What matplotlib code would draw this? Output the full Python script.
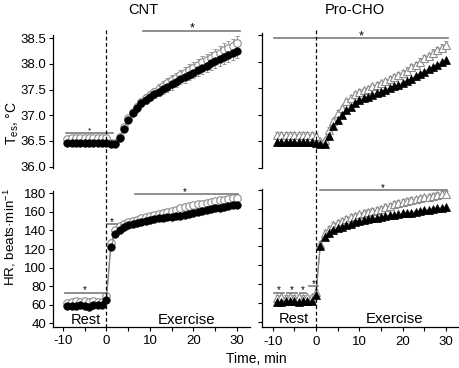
import matplotlib
matplotlib.use("Agg")
import matplotlib.pyplot as plt
from matplotlib.lines import Line2D
from matplotlib.transforms import blended_transform_factory
import numpy as np

plt.rcParams['font.family'] = ['Liberation Sans', 'DejaVu Sans']
plt.rcParams['mathtext.default'] = 'regular'

# ---------------- data ----------------
time = [-9, -8, -7, -6, -5, -4, -3, -2, -1, 0,
        1, 2, 3, 4, 5, 6, 7, 8, 9, 10,
        11, 12, 13, 14, 15, 16, 17, 18, 19, 20,
        21, 22, 23, 24, 25, 26, 27, 28, 29, 30]

cnt_tes_filled = [36.46, 36.46, 36.46, 36.47, 36.47, 36.47, 36.47, 36.47, 36.47, 36.46,
                  36.44, 36.44, 36.56, 36.74, 36.91, 37.04, 37.14, 37.23, 37.30, 37.36,
                  37.41, 37.46, 37.51, 37.55, 37.60, 37.65, 37.70, 37.74, 37.79, 37.83,
                  37.88, 37.92, 37.96, 38.01, 38.05, 38.09, 38.13, 38.17, 38.21, 38.25]
cnt_tes_open = [36.54, 36.55, 36.55, 36.55, 36.56, 36.56, 36.56, 36.56, 36.56, 36.55,
                36.46, 36.46, 36.58, 36.77, 36.94, 37.07, 37.17, 37.26, 37.33, 37.40,
                37.46, 37.52, 37.58, 37.63, 37.68, 37.73, 37.78, 37.83, 37.88, 37.93,
                37.98, 38.03, 38.07, 38.12, 38.17, 38.22, 38.27, 38.31, 38.35, 38.40]
cho_tes_filled = [36.48, 36.48, 36.48, 36.48, 36.48, 36.48, 36.48, 36.48, 36.48, 36.47,
                  36.45, 36.45, 36.59, 36.78, 36.90, 37.00, 37.09, 37.15, 37.22, 37.28,
                  37.31, 37.34, 37.37, 37.40, 37.43, 37.46, 37.50, 37.53, 37.56, 37.59,
                  37.63, 37.68, 37.72, 37.77, 37.81, 37.86, 37.90, 37.94, 37.99, 38.03]
cho_tes_open = [36.62, 36.62, 36.62, 36.62, 36.62, 36.62, 36.62, 36.62, 36.62, 36.60,
                36.50, 36.52, 36.71, 36.87, 37.03, 37.12, 37.25, 37.31, 37.38, 37.43,
                37.46, 37.49, 37.53, 37.56, 37.59, 37.63, 37.67, 37.70, 37.74, 37.78,
                37.83, 37.89, 37.94, 38.00, 38.06, 38.11, 38.16, 38.21, 38.26, 38.31]

cnt_hr_filled = [59, 59, 59, 60, 59, 58, 60, 60, 60, 65,
                 122, 136, 141, 144, 146, 147, 148, 149, 150, 151,
                 152, 153, 153, 154, 155, 156, 156, 157, 158, 159,
                 160, 161, 162, 163, 164, 164, 165, 166, 167, 167]
cnt_hr_open = [62, 63, 64, 63, 64, 63, 64, 63, 63, 69,
               126, 140, 145, 147, 149, 150, 151, 153, 154, 156,
               157, 158, 159, 160, 161, 162, 164, 165, 166, 167,
               168, 169, 170, 171, 172, 173, 173, 174, 175, 175]
cho_hr_filled = [61, 61, 62, 62, 62, 61, 62, 62, 62, 68,
                 121, 130, 134, 137, 140, 141, 143, 144, 146, 147,
                 148, 149, 150, 150, 151, 152, 153, 153, 154, 155,
                 156, 156, 157, 158, 159, 159, 160, 161, 161, 162]
cho_hr_open = [65, 66, 65, 66, 65, 66, 65, 66, 66, 72,
               123, 134, 139, 143, 145, 147, 149, 151, 152, 154,
               156, 157, 158, 159, 160, 162, 163, 165, 166, 167,
               168, 169, 170, 171, 172, 173, 174, 175, 176, 176]

# error bars (open: upward, filled: downward)
cnt_tes_err = [0.05, 0.05, 0.05, 0.05, 0.05, 0.05, 0.05, 0.05, 0.05, 0.05,
               0.04, 0.04, 0.05, 0.05, 0.06, 0.06, 0.07, 0.07, 0.08, 0.08,
               0.08, 0.09, 0.09, 0.09, 0.10, 0.10, 0.10, 0.11, 0.11, 0.11,
               0.11, 0.12, 0.12, 0.12, 0.12, 0.13, 0.13, 0.13, 0.14, 0.14]
cho_tes_err = [0.05, 0.05, 0.05, 0.05, 0.05, 0.05, 0.05, 0.05, 0.05, 0.05,
               0.04, 0.04, 0.05, 0.05, 0.05, 0.05, 0.05, 0.05, 0.05, 0.05,
               0.05, 0.05, 0.05, 0.05, 0.05, 0.05, 0.05, 0.06, 0.06, 0.06,
               0.06, 0.06, 0.06, 0.06, 0.06, 0.06, 0.07, 0.07, 0.07, 0.07]
hr_err = [3, 3, 3, 3, 3, 3, 3, 3, 3, 3,
          3, 3, 3, 3, 3, 3, 3, 3, 3, 3,
          3, 3, 3, 3, 3, 3, 3, 3, 3, 3,
          3, 3, 3, 3, 3, 3, 3, 3, 3, 3]

# significance bars: (start, end, level, star x, star size)
cnt_tes_sig = [(-9.3, 1.4, 36.65, -4.0, 6), (8.5, 30.7, 38.65, 19.6, 9)]
cnt_hr_sig = [(-9.5, 0.0, 73, -5.0, 7), (0.2, 2.5, 147, 1.3, 7), (6.5, 30.3, 179, 18.0, 7)]
cho_tes_sig = [(-9.6, 30.4, 38.44, 10.5, 9)]
cho_hr_sig = [(-9.8, -7.3, 71, -8.6, 7), (-6.8, -4.5, 71, -5.6, 7), (-3.8, -2.4, 71, -3.1, 7),
              (-1.6, 0.4, 78, -0.6, 7), (1.0, 30.2, 180, 15.4, 7)]

tes_ticks = [36.0, 36.5, 37.0, 37.5, 38.0, 38.5]
hr_ticks = [40, 60, 80, 100, 120, 140, 160, 180]
x_major = [-10, 0, 10, 20, 30]
x_minor = [-5, 5, 15, 25]

# ---------------- figure ----------------
W, H = 460, 368
fig = plt.figure(figsize=(W / 100, H / 100), dpi=100)


def px_axes(l, t, r, b):
    return fig.add_axes([l / W, 1 - b / H, (r - l) / W, (b - t) / H])


ax_lt = px_axes(53.5, 35.2, 250, 168.2)
ax_lb = px_axes(53.5, 190.5, 250, 326.8)
ax_rt = px_axes(262, 33.4, 460, 168.2)
ax_rb = px_axes(262, 189.0, 460, 327.3)

ax_lt.set_xlim(-12.18, 32.99)
ax_lb.set_xlim(-12.18, 32.99)
ax_rt.set_xlim(-12.47, 33.26)
ax_rb.set_xlim(-12.47, 33.26)
ax_lt.set_ylim(35.97, 38.56)
ax_rt.set_ylim(35.99, 38.53)
ax_lb.set_ylim(36.4, 183)
ax_rb.set_ylim(34.2, 181)

GREY = '#8a8a8a'
ECOL = '#9a9a9a'


def draw(ax, yo, yf, err, marker):
    t = np.array(time)
    yo = np.array(yo)
    yf = np.array(yf)
    e = np.array(err)
    z = np.zeros_like(e)
    ax.errorbar(t, yo, yerr=[z, e], fmt='none', ecolor=ECOL, elinewidth=0.7,
                capsize=1.6, capthick=0.7, zorder=2)
    ax.plot(t, yo, '-', color=GREY, lw=0.8, zorder=2.5)
    ax.plot(t, yo, marker, ls='none', ms=5.4, mfc='white', mec='#8c8c8c', mew=0.8, zorder=3)
    ax.errorbar(t, yf, yerr=[e, z], fmt='none', ecolor=ECOL, elinewidth=0.7,
                capsize=1.6, capthick=0.7, zorder=3.5)
    ax.plot(t, yf, '-', color=GREY, lw=0.8, zorder=3.6)
    ax.plot(t, yf, marker, ls='none', ms=5.4, mfc='black', mec='black', mew=0.5, zorder=4)


draw(ax_lt, cnt_tes_open, cnt_tes_filled, cnt_tes_err, 'o')
draw(ax_rt, cho_tes_open, cho_tes_filled, cho_tes_err, '^')
draw(ax_lb, cnt_hr_open, cnt_hr_filled, hr_err, 'o')
draw(ax_rb, cho_hr_open, cho_hr_filled, hr_err, '^')


def sig(ax, bars, dy):
    for (x0, x1, yv, xs, fs) in bars:
        ax.plot([x0, x1], [yv, yv], color='#7a7a7a', lw=1.2, clip_on=False, zorder=5)
        ax.text(xs, yv + dy, '*', ha='center', va='center', fontsize=fs, color='black',
                clip_on=False)


sig(ax_lt, cnt_tes_sig, 0.04)
sig(ax_rt, cho_tes_sig, 0.04)
sig(ax_lb, cnt_hr_sig, 2.5)
sig(ax_rb, cho_hr_sig, 2.5)

for ax in (ax_lt, ax_rt, ax_lb, ax_rb):
    ax.patch.set_alpha(0)
    ax.spines['top'].set_visible(False)
    ax.spines['right'].set_visible(False)
    ax.spines['left'].set_linewidth(0.9)
    ax.spines['bottom'].set_linewidth(0.9)
    ax.tick_params(axis='both', which='both', direction='out', length=3, width=0.8,
                   labelsize=9.5, pad=2)

for ax in (ax_lt, ax_rt):
    ax.spines['bottom'].set_visible(False)
    ax.set_xticks([])
    ax.set_yticks(tes_ticks)
for ax in (ax_lb, ax_rb):
    ax.set_yticks(hr_ticks)
    ax.set_xticks(x_major)
    ax.set_xticks(x_minor, minor=True)
    ax.set_xticklabels([str(v) for v in x_major])
    ax.tick_params(axis='x', which='both', pad=3)

ax_lt.set_yticklabels(['%.1f' % v for v in tes_ticks])
ax_rt.set_yticklabels([])
ax_rb.set_yticklabels([])

# Rest / Exercise labels
for ax, xr, xe in ((ax_lb, -4.8, 18.4), (ax_rb, -5.2, 18.2)):
    ax.text(xr, 43.5, 'Rest', ha='center', va='center', fontsize=10.5)
    ax.text(xe, 43.5, 'Exercise', ha='center', va='center', fontsize=10.8)

# dashed vertical line at time 0 spanning both panels
for axb in (ax_lb, ax_rb):
    tr = blended_transform_factory(axb.transData, fig.transFigure)
    fig.add_artist(Line2D([0, 0], [1 - 30 / H, 1 - 327 / H], transform=tr,
                          color='black', lw=0.9, ls=(0, (3, 2))))

# titles and labels
fig.text(143 / W, 1 - 10 / H, 'CNT', ha='center', va='center', fontsize=10.5)
fig.text(355 / W, 1 - 10 / H, 'Pro-CHO', ha='center', va='center', fontsize=10.5)
fig.text(256 / W, 1 - 359 / H, 'Time, min', ha='center', va='center', fontsize=10)
fig.text(13 / W, 1 - 123 / H, 'T$_{es}$, °C', ha='center', va='center', rotation=90,
         fontsize=10)
fig.text(9.5 / W, 1 - 237 / H, 'HR, beats·min$^{-1}$', ha='center', va='center',
         rotation=90, fontsize=9.6)

fig.savefig('out.png', dpi=100)
